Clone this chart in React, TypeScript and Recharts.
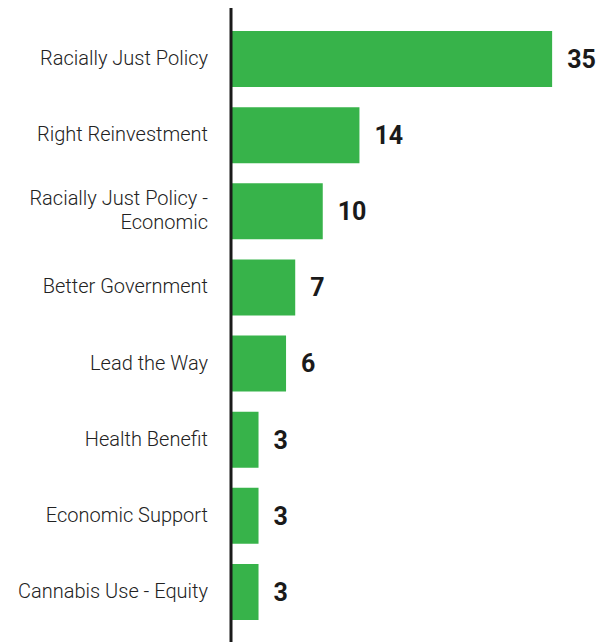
import React from "react";
import { BarChart, Bar, XAxis, YAxis, LabelList } from "recharts";

const categories = [
  "Racially Just Policy",
  "Right Reinvestment",
  "Racially Just Policy -\nEconomic",
  "Better Government",
  "Lead the Way",
  "Health Benefit",
  "Economic Support",
  "Cannabis Use - Equity",
];
const counts = [35, 14, 10, 7, 6, 3, 3, 3];

const data = categories.map((name, i) => ({ name, value: counts[i] }));

const FONT = "Roboto, 'Noto Sans', sans-serif";

const CategoryTick = (props: any) => {
  const { x, y, payload } = props;
  const lines = String(payload.value).split("\n");
  const lh = 24;
  const start = -((lines.length - 1) * lh) / 2;
  return (
    <g>
      {lines.map((l: string, i: number) => (
        <text
          key={i}
          x={x - 15}
          y={y + start + i * lh}
          dy="0.3em"
          textAnchor="end"
          fontFamily={FONT}
          fontWeight={300}
          fontSize={20}
          fill="#222"
        >
          {l}
        </text>
      ))}
    </g>
  );
};

export default function App() {
  return (
    <div style={{ position: "absolute", left: 0, top: 0, width: 598, height: 642, background: "#fff" }}>
      <BarChart
        width={598}
        height={642}
        data={data}
        layout="vertical"
        margin={{ top: 8, right: 0, bottom: 0, left: 0 }}
      >
        <XAxis type="number" domain={[0, 40]} hide />
        <YAxis
          type="category"
          dataKey="name"
          width={231}
          axisLine={{ stroke: "#1a1a1a", strokeWidth: 3 }}
          tickLine={false}
          tick={<CategoryTick />}
          interval={0}
          padding={{ top: 13, bottom: 12 }}
        />
        <Bar dataKey="value" fill="#37b34a" barSize={56} isAnimationActive={false}>
          <LabelList
            dataKey="value"
            position="right"
            offset={15}
            fill="#1a1a1a"
            fontFamily={FONT}
            fontWeight={700}
            fontSize={25}
          />
        </Bar>
      </BarChart>
    </div>
  );
}
